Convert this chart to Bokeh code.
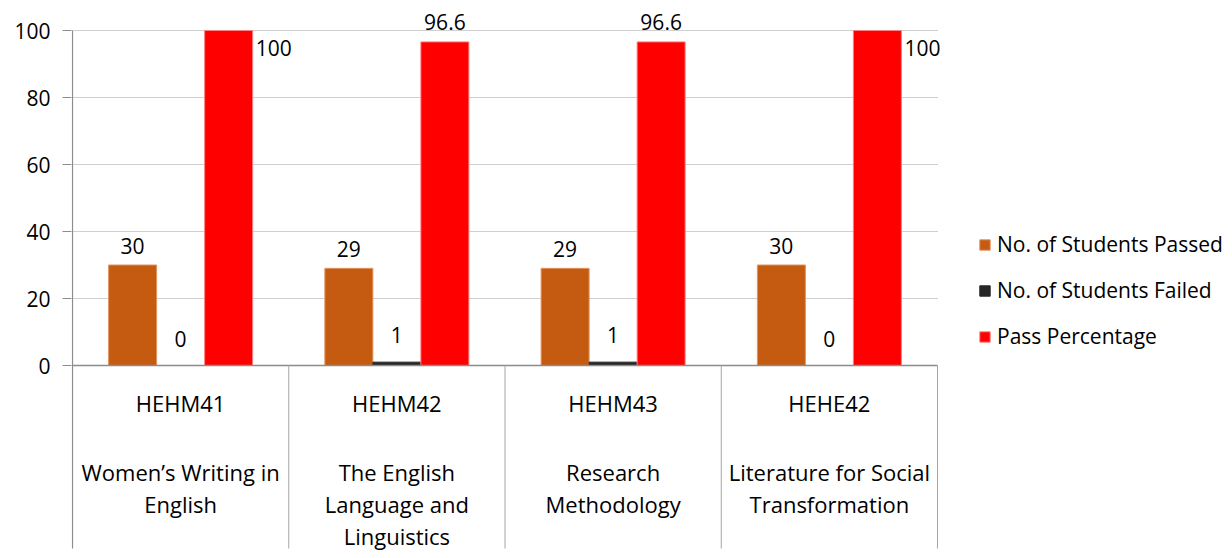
from bokeh.plotting import figure
from bokeh.models import Range1d, FixedTicker, Legend, LegendItem, ColumnDataSource
from bokeh.embed import file_html
from bokeh.resources import INLINE
from bokeh.core.properties import value

codes = ["HEHM41", "HEHM42", "HEHM43", "HEHE42"]
titles = ["Women\u2019s Writing in\nEnglish",
          "The English\nLanguage and\nLinguistics",
          "Research\nMethodology",
          "Literature for Social\nTransformation"]
passed = [30, 29, 29, 30]
failed = [0, 1, 1, 0]
pass_pct = [100, 96.6, 96.6, 100]
series_names = ["No. of Students Passed", "No. of Students Failed", "Pass Percentage"]
colors = ["#C55A11", "#262626", "#FF0000"]
edge_colors = ["#E2935F", "#262626", "#FF8080"]
label_gaps = [19, 27, 20]   # px offset of label above bar top, per series
y_ticks = [0, 20, 40, 60, 80, 100]

FONT = "Open Sans"
FS = "21px"
CAT_FS = "22px"
PX = 3.35            # pixels per data unit on y
CAT_PX = 216.25      # pixels per category on x
n = len(codes)

W, H = 1224, 556
LEFT, TOP = 71, 8
Y_TOP = 100 + 22 / PX
Y_BOTTOM = Y_TOP - (H - TOP) / PX
X_START = -1 / CAT_PX
X_END = X_START + (W - LEFT) / CAT_PX
CAT_BOTTOM = -183 / PX

centers = [i + 0.5 for i in range(n)]
bw = 0.222
offsets = [-bw, 0.0, bw]

p = figure(width=W, height=H, output_backend="svg", toolbar_location=None,
           x_range=Range1d(X_START, X_END), y_range=Range1d(Y_BOTTOM, Y_TOP),
           min_border_left=LEFT, min_border_top=TOP, min_border_bottom=0, min_border_right=0)
p.outline_line_color = None
p.xaxis.visible = False
p.xgrid.visible = False
p.ygrid.visible = False

yax = p.yaxis[0]
yax.ticker = FixedTicker(ticks=y_ticks)
yax.axis_line_color = None
yax.major_tick_line_color = "#8C8C8C"
yax.major_tick_out = 9
yax.major_tick_in = 0
yax.minor_tick_line_color = None
yax.major_label_text_font = FONT
yax.major_label_text_font_size = FS
yax.major_label_text_color = "#000000"
yax.major_label_standoff = 12

# dotted gridlines across the category area
grid_y = y_ticks[1:]
p.segment(x0=[0] * len(grid_y), y0=grid_y, x1=[n] * len(grid_y), y1=grid_y,
          line_color="#A0A0A0", line_dash="1 1", line_width=1)

items = []
series = [passed, failed, pass_pct]
for k, vals in enumerate(series):
    src = ColumnDataSource(dict(x=[c + offsets[k] for c in centers], top=vals))
    r = p.vbar(x="x", top="top", bottom=0, width=bw, source=src,
               fill_color=colors[k], line_color=edge_colors[k], line_width=1)
    items.append(LegendItem(label=series_names[k], renderers=[r]))

# value axis line, category axis line and category separators
p.segment(x0=[0], y0=[CAT_BOTTOM], x1=[0], y1=[100], line_color="#8C8C8C", line_width=1.2)
p.segment(x0=[0], y0=[0], x1=[n], y1=[0], line_color="#8C8C8C", line_width=1.5)
p.segment(x0=[i + 1 for i in range(n)], y0=[0] * n, x1=[i + 1 for i in range(n)],
          y1=[CAT_BOTTOM] * n, line_color="#A6A6A6", line_width=1)

# data labels
lab_x, lab_y, lab_t, lab_align, lab_xoff, lab_yoff = [], [], [], [], [], []
for k, vals in enumerate(series):
    for i, v in enumerate(vals):
        if v >= 100:
            lab_x.append(centers[i] + offsets[k] + bw / 2)
            lab_align.append("left")
            lab_xoff.append(3)
            lab_yoff.append(17)
        else:
            lab_x.append(centers[i] + offsets[k])
            lab_align.append("center")
            lab_xoff.append(0)
            lab_yoff.append(-label_gaps[k])
        lab_y.append(v)
        lab_t.append("%g" % v)
lsrc = ColumnDataSource(dict(x=lab_x, y=lab_y, t=lab_t, a=lab_align, xo=lab_xoff, yo=lab_yoff))
p.text(x="x", y="y", text="t", text_align="a", x_offset="xo", y_offset="yo",
       text_baseline="alphabetic", source=lsrc, text_font=value(FONT), text_font_size=FS,
       text_color="#000000")

# category labels
p.text(x=centers, y=[-37 / PX] * n, text=codes, text_align="center",
       text_baseline="middle", text_font=value(FONT), text_font_size=CAT_FS, text_color="#000000")
tx, ty, tt = [], [], []
for i, t in enumerate(titles):
    for j, line in enumerate(t.split("\n")):
        tx.append(centers[i])
        ty.append(-(106 + 32 * j) / PX)
        tt.append(line)
p.text(x=tx, y=ty, text=tt, text_align="center", text_baseline="middle",
       text_font=value(FONT), text_font_size=CAT_FS, text_color="#000000")

legend = Legend(items=items, location=(907, 206), border_line_color=None,
                background_fill_alpha=0, label_text_font=FONT, label_text_font_size=FS,
                label_text_color="#000000",
                glyph_width=13, glyph_height=13, spacing=18,
                label_standoff=6, margin=0, padding=0)
p.add_layout(legend)

open("out.html", "w").write(file_html(p, INLINE))
